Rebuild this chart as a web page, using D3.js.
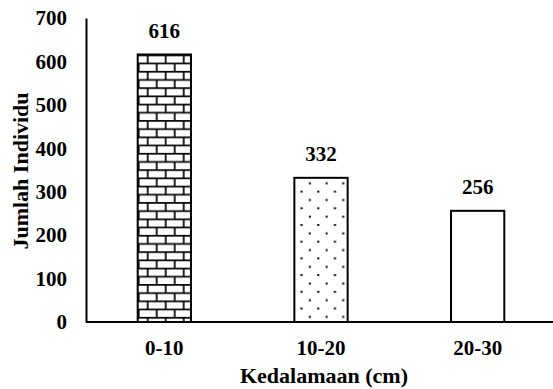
<!DOCTYPE html>
<html><head><meta charset="utf-8">
<script src="https://cdn.jsdelivr.net/npm/d3@7"></script>
<style>body{margin:0;background:#fff}svg{display:block}</style>
</head><body>
<script>
const categories = ["0-10", "10-20", "20-30"];
const values = [616, 332, 256];
const yTicks = [0, 100, 200, 300, 400, 500, 600, 700];
const patterns = ["brick", "dots", "none"];

const W = 553, H = 389;
const svg = d3.select("body").append("svg").attr("width", W).attr("height", H);
const defs = svg.append("defs");

const x = d3.scaleBand().domain(categories).range([86, 556]).paddingInner(0.66).paddingOuter(0.33);
const y = d3.scaleLinear().domain([0, 700]).range([322, 18]);

const font = "'Liberation Serif', 'Times New Roman', serif";

// brick pattern (aligned to first bar)
const bp = defs.append("pattern").attr("id", "brick").attr("patternUnits", "userSpaceOnUse")
  .attr("width", 18).attr("height", 16.4)
  .attr("x", x(categories[0])).attr("y", y(values[0]));
bp.append("rect").attr("width", 18).attr("height", 16.4).attr("fill", "#fff");
bp.append("path").attr("d", "M0,0.8H18M0,9H18M10,0.8V9M1,9V16.4")
  .attr("stroke", "#000").attr("stroke-width", 1.7).attr("fill", "none");

// dot pattern (aligned to second bar)
const dp = defs.append("pattern").attr("id", "dots").attr("patternUnits", "userSpaceOnUse")
  .attr("width", 16.7).attr("height", 16.7)
  .attr("x", x(categories[1])).attr("y", y(values[1]));
dp.append("rect").attr("width", 16.7).attr("height", 16.7).attr("fill", "#fff");
dp.append("rect").attr("x", 14.5).attr("y", 4.5).attr("width", 2).attr("height", 2).attr("fill", "#000");
dp.append("rect").attr("x", 6.2).attr("y", 12.8).attr("width", 2).attr("height", 2).attr("fill", "#000");

// bars
svg.selectAll("rect.bar").data(values).join("rect").attr("class", "bar")
  .attr("x", (d, i) => x(categories[i]))
  .attr("y", d => y(d))
  .attr("width", x.bandwidth())
  .attr("height", d => y(0) - y(d))
  .attr("fill", (d, i) => patterns[i] === "none" ? "#fff" : `url(#${patterns[i]})`)
  .attr("stroke", "#000").attr("stroke-width", 2);

// value labels
svg.selectAll("text.val").data(values).join("text").attr("class", "val")
  .attr("x", (d, i) => x(categories[i]) + x.bandwidth() / 2)
  .attr("y", d => y(d) - 16.5)
  .attr("text-anchor", "middle")
  .attr("font-family", font).attr("font-weight", "bold").attr("font-size", 21)
  .text(d => d);

// y axis
const yAxis = d3.axisLeft(y).tickValues(yTicks).tickSize(0).tickPadding(19);
const gy = svg.append("g").attr("transform", "translate(86,0)").call(yAxis);
gy.select(".domain").attr("stroke", "#000").attr("stroke-width", 2);
gy.selectAll("text").attr("font-family", font).attr("font-weight", "bold").attr("font-size", 21).attr("fill", "#000");

// x axis
const xAxis = d3.axisBottom(x).tickSize(0).tickPadding(0);
const gx = svg.append("g").attr("transform", "translate(0,322)").call(xAxis);
gx.select(".domain").attr("d", "M86,0H553").attr("stroke", "#000").attr("stroke-width", 2);
gx.selectAll("text").attr("dy", null).attr("y", 33).attr("font-family", font).attr("font-weight", "bold").attr("font-size", 21).attr("fill", "#000");

// axis titles
svg.append("text").attr("x", 324).attr("y", 383).attr("text-anchor", "middle")
  .attr("font-family", font).attr("font-weight", "bold").attr("font-size", 22).text("Kedalamaan (cm)");
svg.append("text").attr("transform", "translate(20,171) rotate(-90)").attr("text-anchor", "middle").attr("dominant-baseline", "central")
  .attr("font-family", font).attr("font-weight", "bold").attr("font-size", 22).text("Jumlah Individu");
</script>
</body></html>
